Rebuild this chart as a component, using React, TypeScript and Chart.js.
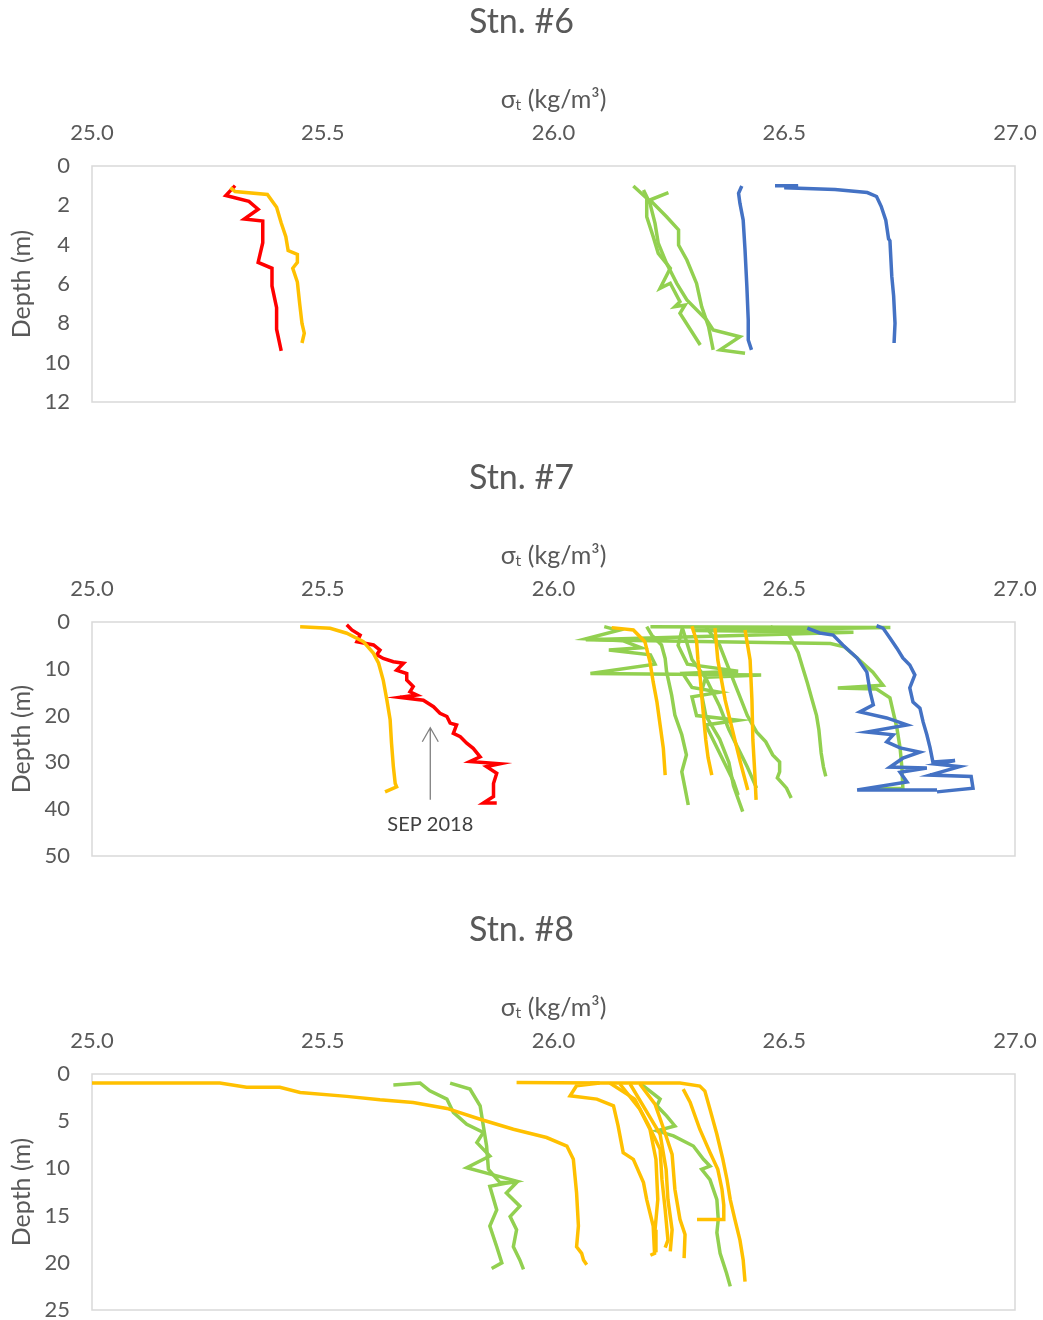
import React, { useEffect, useRef } from "react";
import { Chart, registerables } from "chart.js";

Chart.register(...registerables);

type Pt = [number, number]; // [sigma-t, depth]

const RED = "#FF0000";
const ORANGE = "#FFC000";
const GREEN = "#92D050";
const BLUE = "#4472C4";
const TEXT = "#595959";
const FONT = "Lato, 'Open Sans', sans-serif";

const sigmaMin = 25.0;
const sigmaMax = 27.0;
const sigmaStep = 0.5;
const stationTitles = ["Stn. #6", "Stn. #7", "Stn. #8"];
const depthMax = [12, 50, 25];
const depthStep = [2, 10, 5];

// ---------- Station 6 ----------
const s6Red: Pt[] = [[25.31, 1.0], [25.29, 1.5], [25.34, 1.8], [25.36, 2.2], [25.33, 2.7], [25.37, 2.8], [25.37, 3.9], [25.36, 4.9], [25.39, 5.2], [25.39, 6.1], [25.40, 7.2], [25.40, 8.3], [25.41, 9.4]];
const s6Orange: Pt[] = [[25.30, 1.1], [25.31, 1.3], [25.38, 1.45], [25.40, 2.1], [25.41, 2.9], [25.42, 3.6], [25.425, 4.3], [25.445, 4.5], [25.445, 4.9], [25.435, 5.2], [25.445, 5.9], [25.45, 7.0], [25.455, 8.0], [25.46, 8.5], [25.455, 9.0]];
const s6Green1: Pt[] = [[26.173, 1.02], [26.202, 1.64], [26.202, 2.58], [26.216, 3.59], [26.227, 4.44], [26.253, 5.2], [26.231, 6.22], [26.253, 5.96], [26.274, 6.9], [26.263, 7.15], [26.285, 7.07], [26.274, 7.49], [26.318, 9.1]];
const s6Green2: Pt[] = [[26.249, 1.36], [26.209, 1.73], [26.245, 2.58], [26.271, 3.25], [26.271, 4.02], [26.289, 4.78], [26.31, 5.97], [26.321, 7.15], [26.336, 8.17], [26.346, 9.35]];
const s6Green3: Pt[] = [[26.195, 1.22], [26.209, 1.9], [26.22, 2.92], [26.227, 3.93], [26.245, 4.95], [26.267, 5.97], [26.289, 6.81], [26.332, 7.83], [26.346, 8.34], [26.404, 8.68], [26.361, 9.35], [26.415, 9.52]];
const s6Blue1: Pt[] = [[26.408, 1.02], [26.401, 1.39], [26.404, 1.9], [26.411, 2.75], [26.415, 4.27], [26.419, 6.13], [26.422, 7.83], [26.422, 8.85], [26.429, 9.35]];
const s6Blue2: Pt[] = [[26.48, 1.0], [26.53, 1.0], [26.50, 1.1], [26.61, 1.2], [26.68, 1.35], [26.70, 1.55], [26.71, 2.05], [26.72, 2.75], [26.726, 3.7], [26.729, 3.8], [26.733, 5.6], [26.737, 6.6], [26.74, 8.0], [26.738, 9.0]];

// ---------- Station 7 ----------
const s7OrangeA: Pt[] = [[25.451, 1.0], [25.516, 1.35], [25.552, 2.4], [25.588, 4.2], [25.61, 6.7], [25.621, 8.8], [25.631, 12.4], [25.639, 16.7], [25.646, 20.9], [25.649, 25.9], [25.653, 30.9], [25.657, 34.5], [25.66, 35.2], [25.635, 36.3]];
const s7Red: Pt[] = [[25.552, 0.6], [25.563, 1.7], [25.581, 2.8], [25.574, 4.2], [25.61, 4.9], [25.624, 6.0], [25.617, 7.0], [25.631, 7.8], [25.653, 8.5], [25.675, 8.8], [25.66, 10.3], [25.682, 11.0], [25.682, 12.4], [25.696, 13.8], [25.689, 14.9], [25.704, 15.6], [25.667, 16.1], [25.718, 16.7], [25.74, 18.1], [25.754, 19.5], [25.769, 20.2], [25.776, 21.6], [25.79, 22.0], [25.783, 23.8], [25.798, 24.5], [25.812, 25.9], [25.826, 27.0], [25.841, 28.8], [25.819, 29.8], [25.884, 30.3], [25.855, 30.9], [25.877, 32.3], [25.87, 34.5], [25.87, 37.3], [25.848, 38.7], [25.877, 38.7]];
const s7OrangeB: Pt[] = [[26.126, 1.2], [26.173, 1.7], [26.198, 4.2], [26.209, 8.5], [26.216, 12.8], [26.224, 17.0], [26.231, 22.0], [26.238, 27.0], [26.242, 32.7]];
const s7OrangeC: Pt[] = [[26.30, 0.9], [26.31, 4.0], [26.313, 8.1], [26.318, 12.0], [26.322, 16.7], [26.326, 21.0], [26.33, 25.2], [26.335, 29.0], [26.343, 32.7]];
const s7OrangeD: Pt[] = [[26.35, 1.3], [26.356, 8.1], [26.372, 16.7], [26.393, 25.2], [26.405, 30.0], [26.421, 35.9]];
const s7OrangeE: Pt[] = [[26.415, 1.7], [26.426, 8.1], [26.43, 16.7], [26.432, 25.2], [26.436, 32.0], [26.439, 38.0]];
const s7GreenA: Pt[] = [[26.202, 1.0], [26.213, 2.8], [26.234, 4.9], [26.242, 7.8], [26.245, 10.6], [26.256, 15.6], [26.263, 19.9], [26.278, 24.1], [26.288, 28.4], [26.278, 32.0], [26.285, 35.5], [26.292, 39.1]];
const s7GreenB: Pt[] = [[26.11, 1.0], [26.14, 1.8], [26.07, 3.6], [26.15, 4.0], [26.19, 5.5], [26.12, 6.0], [26.21, 7.0], [26.22, 9.0], [26.08, 11.0], [26.45, 11.3], [26.33, 11.8], [26.32, 15.0], [26.33, 20.0], [26.36, 25.0], [26.38, 30.0], [26.39, 35.0], [26.41, 40.5]];
const s7GreenC: Pt[] = [[26.21, 1.0], [26.73, 1.2], [26.30, 1.8], [26.65, 2.2], [26.07, 3.8], [26.60, 4.6], [26.63, 5.3], [26.658, 7.7], [26.692, 10.7], [26.714, 13.5], [26.616, 14.1], [26.70, 14.3], [26.729, 16.2], [26.736, 19.2], [26.744, 22.6], [26.751, 26.9], [26.755, 31.2], [26.757, 35.5], [26.68, 35.7]];
const s7GreenD: Pt[] = [[26.47, 1.0], [26.51, 2.8], [26.53, 6.5], [26.54, 9.8], [26.55, 13.0], [26.56, 16.5], [26.57, 20.0], [26.575, 23.0], [26.58, 28.0], [26.585, 31.0], [26.59, 33.0]];
const s7GreenE: Pt[] = [[26.33, 1.0], [26.36, 5.0], [26.38, 10.0], [26.40, 15.0], [26.42, 20.0], [26.44, 23.5], [26.46, 25.6], [26.475, 28.4], [26.49, 29.9], [26.49, 32.0], [26.485, 33.3], [26.505, 35.5], [26.515, 37.6]];
const s7GreenF: Pt[] = [[26.28, 1.5], [26.30, 8.0], [26.33, 12.0], [26.36, 18.0], [26.38, 23.0], [26.40, 27.0], [26.42, 31.0], [26.44, 35.5]];
const s7GreenG: Pt[] = [[26.28, 1.0], [26.27, 5.0], [26.29, 9.0], [26.40, 10.5], [26.28, 11.0], [26.30, 14.0], [26.36, 15.0], [26.30, 16.0], [26.31, 20.0], [26.40, 21.0], [26.33, 22.0], [26.35, 26.0], [26.37, 30.0], [26.39, 34.0], [26.40, 37.0]];
const s7BlueA: Pt[] = [[26.55, 1.3], [26.577, 2.35], [26.606, 2.8], [26.627, 4.9], [26.658, 7.7], [26.679, 10.7], [26.686, 14.9], [26.693, 17.7], [26.664, 19.2], [26.722, 20.5], [26.766, 22.0], [26.679, 23.5], [26.736, 24.1], [26.722, 25.6], [26.751, 26.9], [26.794, 27.8], [26.757, 29.1], [26.729, 31.0], [26.809, 31.2], [26.751, 32.1], [26.766, 34.2], [26.658, 35.9], [26.831, 35.9]];
const s7BlueB: Pt[] = [[26.70, 0.8], [26.714, 1.3], [26.729, 3.4], [26.744, 5.6], [26.757, 7.7], [26.772, 9.2], [26.783, 11.3], [26.772, 14.1], [26.779, 17.1], [26.794, 18.4], [26.801, 21.4], [26.809, 24.1], [26.816, 26.9], [26.822, 29.9], [26.87, 29.6], [26.83, 30.4], [26.88, 30.9], [26.816, 32.7], [26.905, 33.0], [26.909, 35.5], [26.831, 36.3]];

// annotation (Stn. #7)
const noteText = "SEP 2018";
const noteSigma = 25.733;
const noteArrowTip = 22.6;
const noteArrowBase = 38.0;
const noteLabelDepth = 43.2;

// ---------- Station 8 ----------
const s8OrangeA: Pt[] = [[25.0, 0.96], [25.277, 0.96], [25.335, 1.41], [25.407, 1.41], [25.451, 1.95], [25.552, 2.37], [25.624, 2.73], [25.696, 3.01], [25.769, 3.65], [25.841, 4.79], [25.913, 5.85], [25.985, 6.73], [26.029, 7.63], [26.043, 9.04], [26.05, 12.6], [26.054, 16.1], [26.05, 18.3], [26.061, 19.0], [26.065, 19.7], [26.072, 20.2]];
const s8GreenA: Pt[] = [[25.653, 1.17], [25.711, 0.96], [25.732, 1.78], [25.769, 2.66], [25.783, 4.07], [25.812, 5.32], [25.848, 6.2], [25.834, 7.27], [25.862, 8.69], [25.812, 9.93], [25.855, 10.5], [25.92, 11.35], [25.862, 11.9], [25.877, 14.4], [25.862, 16.1], [25.877, 18.3], [25.888, 20.0], [25.866, 20.6]];
const s8GreenB: Pt[] = [[25.776, 0.96], [25.819, 1.6], [25.841, 3.37], [25.848, 5.5], [25.855, 7.63], [25.859, 10.1], [25.884, 11.5], [25.92, 11.5], [25.898, 12.6], [25.927, 14.0], [25.906, 15.1], [25.92, 16.5], [25.913, 18.3], [25.927, 19.7], [25.935, 20.7]];
const s8GreenC: Pt[] = [[26.187, 0.96], [26.231, 2.66], [26.224, 3.37], [26.245, 4.43], [26.263, 5.5], [26.224, 6.03], [26.26, 6.56], [26.303, 7.63], [26.325, 9.04], [26.339, 9.75], [26.321, 10.1], [26.339, 11.2], [26.354, 13.3], [26.357, 15.4], [26.354, 16.8], [26.361, 19.0], [26.375, 21.1], [26.383, 22.5]];
const s8OrangeB: Pt[] = [[25.92, 0.9], [26.10, 0.95], [26.05, 1.24], [26.036, 2.31], [26.094, 2.66], [26.13, 3.37], [26.14, 5.5], [26.151, 8.33], [26.173, 9.04], [26.195, 11.5], [26.202, 13.3], [26.216, 16.1], [26.219, 19.0], [26.21, 19.2]];
const s8OrangeC: Pt[] = [[26.144, 1.06], [26.187, 3.72], [26.209, 5.85], [26.222, 9.04], [26.226, 13.3], [26.22, 16.5], [26.222, 18.9]];
const s8OrangeD: Pt[] = [[26.166, 1.06], [26.205, 4.26], [26.231, 6.38], [26.244, 10.1], [26.248, 13.3], [26.257, 16.5], [26.253, 18.8]];
const s8OrangeE: Pt[] = [[26.187, 1.06], [26.22, 3.19], [26.239, 5.85], [26.257, 8.51], [26.263, 12.2], [26.274, 15.4], [26.285, 17.0], [26.283, 19.5]];
const s8OrangeF: Pt[] = [[26.122, 0.96], [26.176, 2.66], [26.205, 5.32], [26.231, 7.98], [26.235, 11.2], [26.242, 14.4], [26.248, 17.6], [26.242, 18.4]];
const s8OrangeG: Pt[] = [[26.079, 0.96], [26.274, 0.96], [26.317, 1.28], [26.328, 1.81], [26.339, 3.72], [26.354, 6.38], [26.367, 9.04], [26.376, 11.2], [26.383, 13.3], [26.393, 15.4], [26.404, 17.6], [26.411, 19.7], [26.415, 22.0]];
const s8OrangeH: Pt[] = [[26.281, 1.6], [26.296, 2.98], [26.317, 5.85], [26.339, 8.3], [26.356, 10.1], [26.365, 12.2], [26.369, 13.9], [26.369, 15.4], [26.311, 15.4]];

type Series = { data: Pt[]; color: string };

const station6: Series[] = [
  { data: s6Blue1, color: BLUE }, { data: s6Blue2, color: BLUE },
  { data: s6Orange, color: ORANGE }, { data: s6Red, color: RED },
  { data: s6Green1, color: GREEN }, { data: s6Green2, color: GREEN }, { data: s6Green3, color: GREEN },
];
const station7: Series[] = [
  { data: s7BlueA, color: BLUE }, { data: s7BlueB, color: BLUE },
  { data: s7OrangeA, color: ORANGE }, { data: s7Red, color: RED },
  { data: s7OrangeB, color: ORANGE }, { data: s7OrangeC, color: ORANGE }, { data: s7OrangeD, color: ORANGE }, { data: s7OrangeE, color: ORANGE },
  { data: s7GreenA, color: GREEN }, { data: s7GreenB, color: GREEN }, { data: s7GreenC, color: GREEN }, { data: s7GreenD, color: GREEN },
  { data: s7GreenE, color: GREEN }, { data: s7GreenF, color: GREEN }, { data: s7GreenG, color: GREEN },
];
const station8: Series[] = [
  { data: s8OrangeA, color: ORANGE }, { data: s8OrangeB, color: ORANGE }, { data: s8OrangeC, color: ORANGE }, { data: s8OrangeD, color: ORANGE },
  { data: s8OrangeE, color: ORANGE }, { data: s8OrangeF, color: ORANGE }, { data: s8OrangeG, color: ORANGE }, { data: s8OrangeH, color: ORANGE },
  { data: s8GreenA, color: GREEN }, { data: s8GreenB, color: GREEN }, { data: s8GreenC, color: GREEN },
];

const frame = {
  id: "frame",
  beforeDatasetsDraw(chart: any) {
    const { ctx, chartArea: a } = chart;
    ctx.save();
    ctx.strokeStyle = "#d9d9d9";
    ctx.lineWidth = 1.5;
    ctx.strokeRect(a.left, a.top, a.right - a.left, a.bottom - a.top);
    ctx.restore();
  },
};

const note = {
  id: "note",
  afterDatasetsDraw(chart: any) {
    const xs = chart.scales.x;
    const ys = chart.scales.y;
    const ctx = chart.ctx;
    const x = xs.getPixelForValue(noteSigma);
    const yTip = ys.getPixelForValue(noteArrowTip);
    const yBase = ys.getPixelForValue(noteArrowBase);
    ctx.save();
    ctx.strokeStyle = "#7f7f7f";
    ctx.lineWidth = 1.3;
    ctx.beginPath();
    ctx.moveTo(x, yBase);
    ctx.lineTo(x, yTip);
    ctx.moveTo(x - 8, yTip + 14);
    ctx.lineTo(x, yTip);
    ctx.lineTo(x + 8, yTip + 14);
    ctx.stroke();
    ctx.fillStyle = "#404040";
    ctx.font = `20px ${FONT}`;
    ctx.textAlign = "center";
    ctx.textBaseline = "middle";
    ctx.fillText(noteText, x, ys.getPixelForValue(noteLabelDepth));
    ctx.restore();
  },
};

function Panel(props: { idx: number; series: Series[]; top: number; height: number; padBottom: number }) {
  const ref = useRef<HTMLCanvasElement | null>(null);
  useEffect(() => {
    if (!ref.current) return;
    const titleBoxBottom = 42.8;
    const chart = new Chart(ref.current, {
      type: "scatter",
      data: {
        datasets: props.series.map((s) => ({
          data: s.data.map(([x, y]) => ({ x, y })),
          borderColor: s.color,
          backgroundColor: s.color,
          borderWidth: 3.5,
          pointRadius: 0,
          showLine: true,
          tension: 0,
        })),
      },
      options: {
        responsive: false,
        animation: false,
        layout: { padding: 0 },
        plugins: {
          legend: { display: false },
          tooltip: { enabled: false },
          title: {
            display: true,
            text: stationTitles[props.idx],
            color: TEXT,
            font: { family: FONT, size: 34, weight: "normal" },
            padding: { top: 2, bottom: 0 },
          },
        },
        scales: {
          x: {
            type: "linear",
            position: "top",
            min: sigmaMin,
            max: sigmaMax,
            ticks: {
              stepSize: sigmaStep,
              autoSkip: false,
              maxRotation: 0,
              color: TEXT,
              font: { family: FONT, size: 22 },
              padding: 20,
              callback: (v: any) => Number(v).toFixed(1),
            },
            grid: { display: false, drawTicks: false },
            border: { display: false },
            title: {
              display: true,
              text: "σₜ (kg/m³)",
              color: TEXT,
              font: { family: FONT, size: 25 },
              padding: { top: 42, bottom: 0 },
            },
            afterFit: (s: any) => {
              s.height = 166 - titleBoxBottom;
              s.paddingLeft = 0;
              s.paddingRight = 28;
            },
          },
          y: {
            type: "linear",
            reverse: true,
            min: 0,
            max: depthMax[props.idx],
            ticks: {
              stepSize: depthStep[props.idx],
              color: TEXT,
              font: { family: FONT, size: 22 },
              padding: 22,
            },
            grid: { display: false, drawTicks: false },
            border: { display: false },
            title: {
              display: true,
              text: "Depth (m)",
              color: TEXT,
              font: { family: FONT, size: 25 },
              padding: { top: 7, bottom: 0 },
            },
            afterFit: (s: any) => {
              s.width = 92;
              s.paddingTop = 0;
              s.paddingBottom = props.padBottom;
            },
          },
        },
      } as any,
      plugins: props.idx === 1 ? [frame, note] : [frame],
    });
    return () => chart.destroy();
  }, []);
  return (
    <div style={{ position: "absolute", left: 0, top: props.top, width: 1043, height: props.height }}>
      <canvas ref={ref} width={1043} height={props.height} style={{ display: "block" }} />
    </div>
  );
}

export default function App() {
  return (
    <div style={{ position: "absolute", left: 0, top: 0, width: 1043, height: 1320, overflow: "hidden", background: "#fff" }}>
      <Panel idx={0} series={station6} top={0} height={420} padBottom={18} />
      <Panel idx={1} series={station7} top={456} height={420} padBottom={20} />
      <Panel idx={2} series={station8} top={908} height={412} padBottom={10} />
    </div>
  );
}
